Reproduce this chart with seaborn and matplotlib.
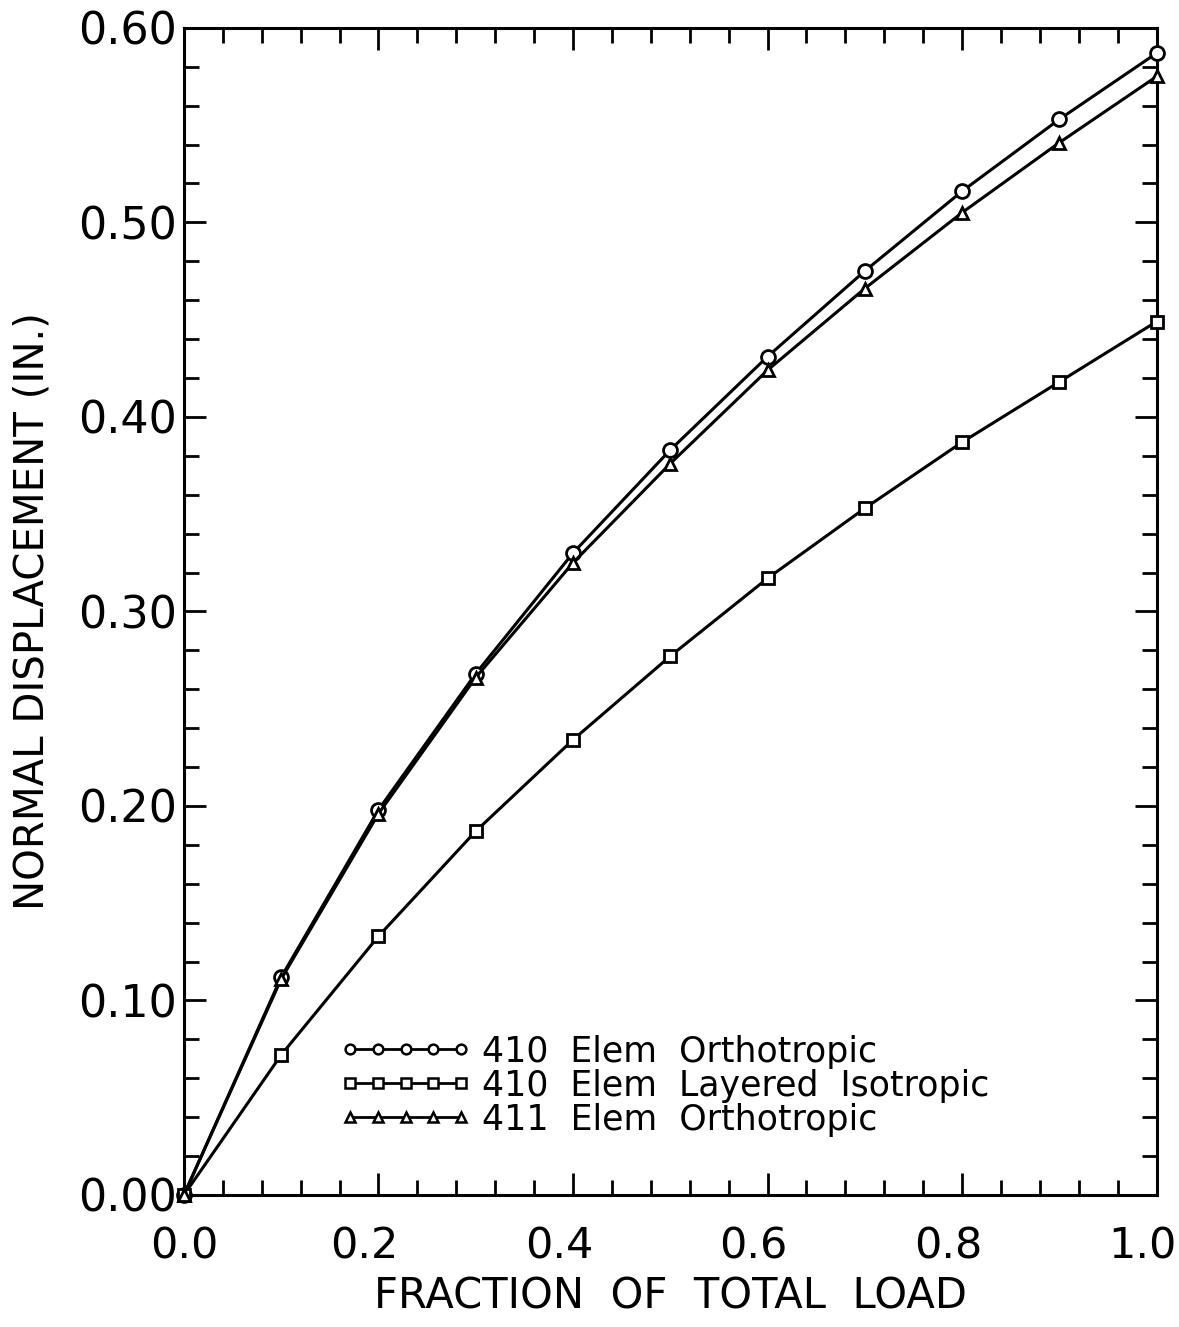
import numpy as np
import pandas as pd
import matplotlib
matplotlib.use("Agg")
import matplotlib.pyplot as plt
import matplotlib.transforms as mtransforms
import seaborn as sns
from matplotlib.ticker import MultipleLocator, FormatStrFormatter
from matplotlib.lines import Line2D

load = [0.0, 0.1, 0.2, 0.3, 0.4, 0.5, 0.6, 0.7, 0.8, 0.9, 1.0]
ortho_410 = [0.0, 0.112, 0.198, 0.268, 0.330, 0.383, 0.431, 0.475, 0.516, 0.553, 0.587]
layered_410 = [0.0, 0.072, 0.133, 0.187, 0.234, 0.277, 0.317, 0.353, 0.387, 0.418, 0.449]
ortho_411 = [0.0, 0.111, 0.196, 0.266, 0.325, 0.376, 0.424, 0.466, 0.505, 0.541, 0.575]

names = ["410  Elem  Orthotropic", "410  Elem  Layered  Isotropic", "411  Elem  Orthotropic"]
markers = {names[0]: "o", names[1]: "s", names[2]: "^"}

df = pd.concat([
    pd.DataFrame({"load": load, "disp": ortho_410, "series": names[0]}),
    pd.DataFrame({"load": load, "disp": layered_410, "series": names[1]}),
    pd.DataFrame({"load": load, "disp": ortho_411, "series": names[2]}),
])

sns.set_style("ticks")
plt.rcParams["font.family"] = ["DejaVu Sans"]
plt.rcParams["text.color"] = "black"
plt.rcParams["axes.labelcolor"] = "black"
plt.rcParams["xtick.color"] = "black"
plt.rcParams["ytick.color"] = "black"

fig = plt.figure(figsize=(11.79, 13.27), dpi=100)
ax = fig.add_axes([0.156, 0.0995, 0.825, 0.8795])

sizes = {names[0]: 10, names[1]: 8, names[2]: 9}
for name in names:
    sub = df[df["series"] == name]
    sns.lineplot(data=sub, x="load", y="disp", ax=ax, color="black", lw=2.2,
                 marker=markers[name], markersize=sizes[name], markerfacecolor="white",
                 markeredgecolor="black", markeredgewidth=2, clip_on=False, zorder=3)

ax.set_xlim(0, 1.0)
ax.set_ylim(0, 0.60)
ax.xaxis.set_major_locator(MultipleLocator(0.2))
ax.xaxis.set_minor_locator(MultipleLocator(0.04))
ax.yaxis.set_major_locator(MultipleLocator(0.1))
ax.yaxis.set_minor_locator(MultipleLocator(0.02))
ax.xaxis.set_major_formatter(FormatStrFormatter("%.1f"))
ax.yaxis.set_major_formatter(FormatStrFormatter("%.2f"))
ax.tick_params(which="both", direction="in", top=True, right=True, width=2, color="black")
ax.tick_params(which="major", length=16)
ax.tick_params(which="minor", length=11)
ax.tick_params(axis="x", labelsize=31, pad=22)
ax.tick_params(axis="y", labelsize=32, pad=5)
for sp in ax.spines.values():
    sp.set_linewidth(2.2)
    sp.set_color("black")

# labels in the original sit a little left of their ticks (except 0.0)
offset = mtransforms.ScaledTranslation(-14 / 100, 0, fig.dpi_scale_trans)
for tick in ax.xaxis.get_major_ticks():
    if tick.get_loc() > 0.05:
        tick.label1.set_transform(tick.label1.get_transform() + offset)

ax.set_xlabel("FRACTION  OF  TOTAL  LOAD", fontsize=30, labelpad=6)
ax.set_ylabel("NORMAL DISPLACEMENT (IN.)", fontsize=29, labelpad=18)

handles = [Line2D([], [], color="black", lw=2, marker=markers[n], markersize=7,
                  markerfacecolor="white", markeredgecolor="black", markeredgewidth=1.8)
           for n in names]
ax.legend(handles, names, loc="lower left", bbox_to_anchor=(0.16, 0.05), frameon=False,
          numpoints=5, handlelength=3.8, handletextpad=0.3, labelspacing=0.0,
          borderpad=0, borderaxespad=0, fontsize=25)

fig.savefig("out.png", dpi=100)
